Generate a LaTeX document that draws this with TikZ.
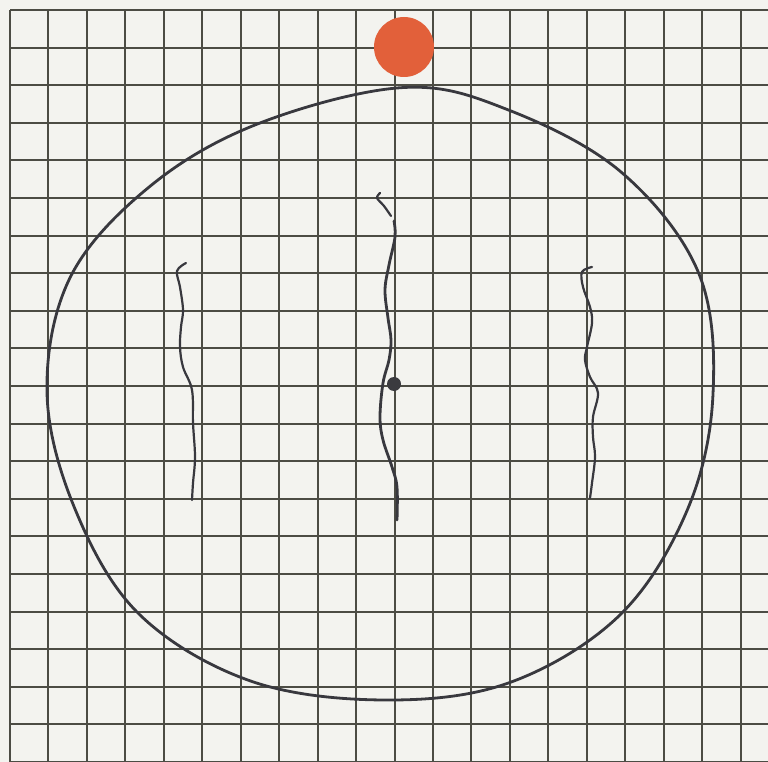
\documentclass[tikz,border=0pt]{standalone}
\begin{document}
\begin{tikzpicture}[x=1pt,y=-1pt,
  gridline/.style={draw=gridc,line width=2pt},
  pen/.style={draw=penc,line width=2.8pt,line cap=round,line join=round},
  thinpen/.style={draw=penc,line width=2.2pt,line cap=round,line join=round}]
\definecolor{paper}{HTML}{F3F3EF}
\definecolor{gridc}{HTML}{4C4C44}
\definecolor{penc}{HTML}{38383E}
\definecolor{orangedot}{HTML}{E2603A}
\fill[paper] (0,0) rectangle (768,762);
\useasboundingbox (0,0) rectangle (768,762);
% grid
\foreach \k in {0,...,19}{
  \draw[gridline] ({10+38.45*\k},10) -- ({10+38.45*\k},762);
}
\foreach \k in {0,...,20}{
  \draw[gridline] (10,{10+37.6*\k}) -- (768,{10+37.6*\k});
}
% big hand-drawn circle
\draw[pen] plot[smooth cycle,tension=0.6] coordinates {
  (713,394) (687.7,509) (620.2,614.7) (510.1,682.4) (385,700)
  (250.6,681) (139,614) (75,509) (47,392) (70.8,276.2)
  (151.6,185) (260,123) (404,87.5) (508.2,109.9)
  (621.4,172.3) (698.5,272.7)};
% left wavy line
\draw[thinpen] plot[smooth,tension=0.6] coordinates {
  (186,263) (177,271) (180,287) (183,310) (181,327) (180,347) (183,367)
  (192,390) (193,423) (195,457) (193,483) (192,500)};
% right wavy line
\draw[thinpen] plot[smooth,tension=0.6] coordinates {
  (592,267) (582,272) (583,287) (590,307) (592,323) (587,347) (585,360)
  (590,377) (598,393) (593,417) (593,437) (595,457) (592,483) (590,498)};
% centre line: hook and main stroke
\draw[thinpen] plot[smooth,tension=0.5] coordinates {
  (380,193) (377,198) (384,206) (391,216)};
\draw[pen] plot[smooth,tension=0.6] coordinates {
  (394,221) (395,237) (389,265) (385,290) (388,318) (391,340) (389,360)
  (383,383) (380,417) (383,440) (392,467) (397,487) (397,520)};
% centre dot
\node[circle,fill=penc!85!gridc,minimum size=14pt,inner sep=0pt] (cdot) at (394,384) {};
% orange dot
\node[circle,fill=orangedot,minimum size=60pt,inner sep=0pt] (odot) at (404,47) {};
\end{tikzpicture}
\end{document}
